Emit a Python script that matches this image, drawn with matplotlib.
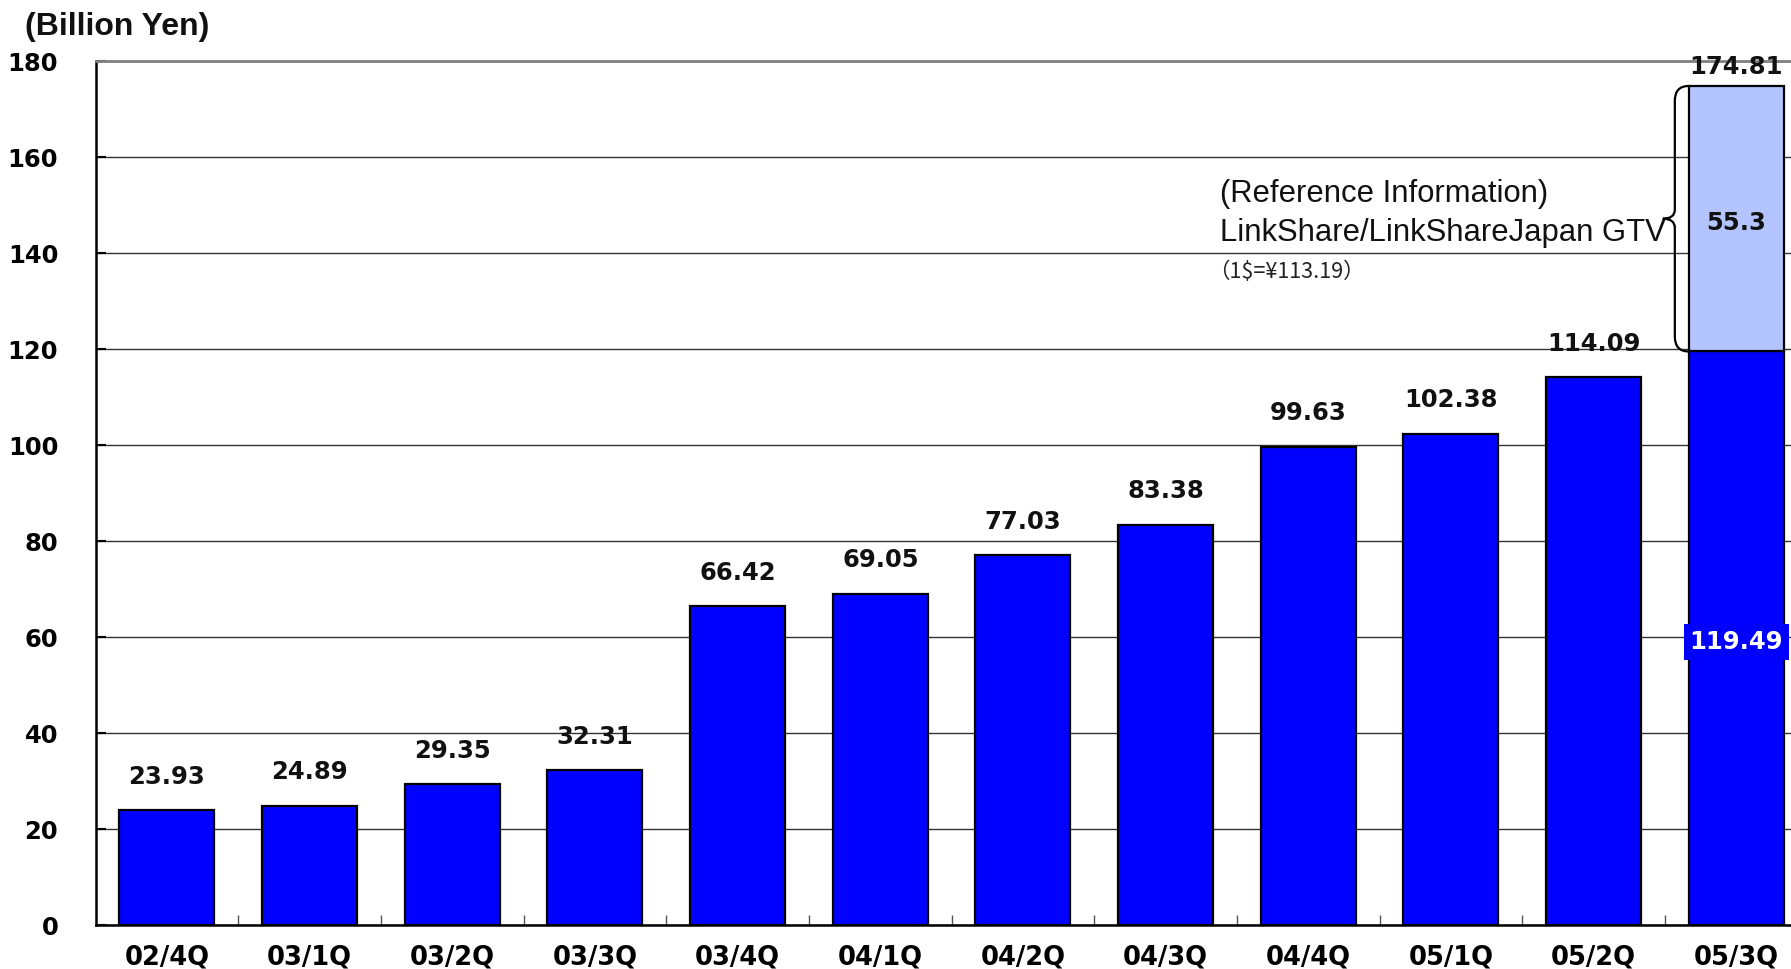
import matplotlib
matplotlib.use("Agg")
import matplotlib.pyplot as plt
from matplotlib.path import Path
from matplotlib.patches import PathPatch

# Quarterly GTV (billion yen)
quarters = ["02/4Q", "03/1Q", "03/2Q", "03/3Q", "03/4Q", "04/1Q",
            "04/2Q", "04/3Q", "04/4Q", "05/1Q", "05/2Q", "05/3Q"]
gtv = [23.93, 24.89, 29.35, 32.31, 66.42, 69.05,
       77.03, 83.38, 99.63, 102.38, 114.09, 119.49]
# Latest quarter total including LinkShare / LinkShare Japan GTV
latest_total = 174.81
yticks = [0, 20, 40, 60, 80, 100, 120, 140, 160, 180]

BLUE = "#0000FF"
LIGHT = "#B3C4FF"
BAR_W = 0.666
FONT = "Liberation Sans"
NUM = "DejaVu Sans"

fig = plt.figure(figsize=(17.91, 9.69), dpi=100)
ax = fig.add_axes([0.0534, 0.0454, 0.9559, 0.8916])

x = list(range(len(quarters)))
ax.bar(x, gtv, width=BAR_W, color=BLUE, edgecolor="black", linewidth=1.6, zorder=3)
linkshare = latest_total - gtv[-1]
ax.bar([x[-1]], [linkshare], bottom=[gtv[-1]], width=BAR_W, color=LIGHT,
       edgecolor="black", linewidth=1.6, zorder=3)

# value labels above the bars
for xi, v in zip(x[:-1], gtv[:-1]):
    ax.annotate(f"{v:.2f}", (xi, v), xytext=(0, 24), textcoords="offset points",
                ha="center", va="center", fontsize=17.5, fontweight="bold",
                family=NUM, color="#111111")
ax.annotate(f"{latest_total:.2f}", (x[-1], latest_total), xytext=(0, 14),
            textcoords="offset points", ha="center", va="center", fontsize=17.5,
            fontweight="bold", family=NUM, color="#111111", zorder=5)
ax.text(x[-1], gtv[-1] + linkshare / 2 - 0.8, f"{linkshare:.1f}", ha="center",
        va="center", fontsize=17.5, fontweight="bold", family=NUM,
        color="#111111", zorder=5)
ax.text(x[-1], gtv[-1] / 2 - 0.8, f"{gtv[-1]:.2f}", ha="center", va="center",
        fontsize=17.5, fontweight="bold", family=NUM, color="white", zorder=5,
        bbox=dict(facecolor=BLUE, edgecolor="none", pad=4))

# curly brace marking the LinkShare portion
xe = x[-1] - BAR_W / 2
xv = xe - 14 / 142.7
xt = xe - 26 / 142.7
top, bot = latest_total, gtv[-1]
mid = (top + bot) / 2
dy = 15 / 4.8
dt = 9 / 4.8
verts = [(xe, top), (xv, top), (xv, top - dy),
         (xv, mid + dt), (xv, mid), (xt, mid),
         (xv, mid), (xv, mid - dt),
         (xv, bot + dy), (xv, bot), (xe, bot)]
codes = [Path.MOVETO, Path.CURVE3, Path.CURVE3,
         Path.LINETO, Path.CURVE3, Path.CURVE3,
         Path.CURVE3, Path.CURVE3,
         Path.LINETO, Path.CURVE3, Path.CURVE3]
ax.add_patch(PathPatch(Path(verts, codes), facecolor="none", edgecolor="black",
                       linewidth=1.6, zorder=4, clip_on=False))

ax.text(7.38, 152.4, "(Reference Information)", fontsize=22.3, family=FONT,
        ha="left", va="center", color="#111111")
ax.text(7.38, 144.2, "LinkShare/LinkShareJapan GTV", fontsize=22.3, family=FONT,
        ha="left", va="center", color="#111111")
ax.text(7.30, 136.0, "（1$=¥113.19）", fontsize=15.5,
        family=["Noto Sans CJK JP", "DejaVu Sans"], ha="left", va="center",
        color="#222222")

# axes styling
ax.set_xlim(-0.5, len(quarters) - 0.5)
ax.set_ylim(0, 180)
ax.set_yticks(yticks)
ax.set_yticklabels([str(t) for t in yticks], fontsize=17.5, fontweight="bold",
                   family=NUM)
ax.set_xticks(x)
ax.set_xticklabels(quarters, fontsize=18.5, fontweight="bold", family=NUM)
ax.set_xticks([i + 0.5 for i in x[:-1]], minor=True)
ax.tick_params(axis="x", which="major", length=0, pad=14)
ax.tick_params(axis="x", which="minor", direction="in", length=7, width=1,
               color="#555555")
ax.tick_params(axis="y", direction="in", length=7, width=1.5, pad=27)

ax.set_axisbelow(True)
ax.yaxis.grid(True, color="#333333", linewidth=1)
ax.spines["right"].set_visible(False)
ax.spines["top"].set_color("#808080")
ax.spines["top"].set_linewidth(2)
ax.spines["left"].set_linewidth(1.8)
ax.spines["bottom"].set_linewidth(1.8)

fig.text(25 / 1791, 1 - 27 / 969, "(Billion Yen)", fontsize=23,
         fontweight="bold", family=FONT, ha="left", va="center",
         color="#111111")

fig.savefig("out.png", dpi=100)
